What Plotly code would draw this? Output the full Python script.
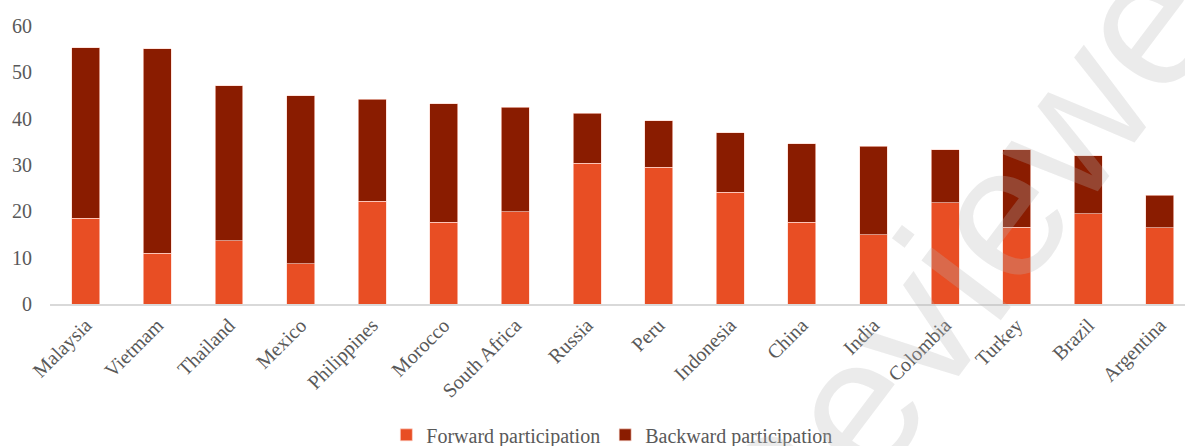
import plotly.graph_objects as go

countries = ["Malaysia", "Vietmam", "Thailand", "Mexico", "Philippines", "Morocco",
             "South Africa", "Russia", "Peru", "Indonesia", "China", "India",
             "Colombia", "Turkey", "Brazil", "Argentina"]
forward = [18.5, 11.0, 13.6, 8.7, 22.2, 17.6, 19.9, 30.4, 29.5, 24.1, 17.6, 14.9, 21.9, 16.6, 19.5, 16.5]
total = [55.3, 55.1, 47.1, 44.9, 44.2, 43.2, 42.5, 41.2, 39.6, 37.0, 34.6, 34.0, 33.3, 33.3, 32.0, 23.5]
backward = [round(t - f, 1) for t, f in zip(total, forward)]
y_ticks = [0, 10, 20, 30, 40, 50, 60]

font_family = "Liberation Serif, Times New Roman, serif"
txt_color = "#595959"
edge = dict(color="rgba(255,215,205,0.8)", width=0.8)

fig = go.Figure()
fig.add_trace(go.Bar(x=countries, y=forward, name="Forward participation",
                     marker=dict(color="#E84E24", line=edge), width=0.39))
fig.add_trace(go.Bar(x=countries, y=backward, name="Backward participation",
                     marker=dict(color="#8A1C00", line=edge), width=0.39))

fig.update_layout(
    barmode="stack",
    width=1185, height=446,
    margin=dict(l=50, r=0, t=26, b=142),
    paper_bgcolor="white", plot_bgcolor="white",
    font=dict(family=font_family, color=txt_color, size=20),
    showlegend=True,
    legend=dict(orientation="h", x=0.495, xanchor="center", y=0.025, yanchor="middle",
                yref="container", font=dict(size=20, family=font_family, color=txt_color),
                itemwidth=30, traceorder="normal"),
    xaxis=dict(range=[-0.5, 15.35], tickangle=-45, showgrid=False, showline=True,
               linecolor="#D9D9D9", linewidth=1.5, ticks="",
               tickfont=dict(size=20, family=font_family, color=txt_color)),
    yaxis=dict(range=[0, 60], tickvals=y_ticks, showgrid=False, showline=False,
               zeroline=False, ticks="", ticklabelstandoff=17,
               tickfont=dict(size=20, family=font_family, color=txt_color)),
    bargap=0.6,
)

fig.add_annotation(text="Reviewer", xref="paper", yref="paper",
                   x=(976 - 50) / 1135, y=(304 - 245) / 278,
                   xanchor="center", yanchor="middle", showarrow=False,
                   textangle=-53,
                   font=dict(size=188, family="Liberation Sans, Arial, sans-serif",
                             color="rgba(180,180,180,0.27)"))

fig.write_html("out.html")
